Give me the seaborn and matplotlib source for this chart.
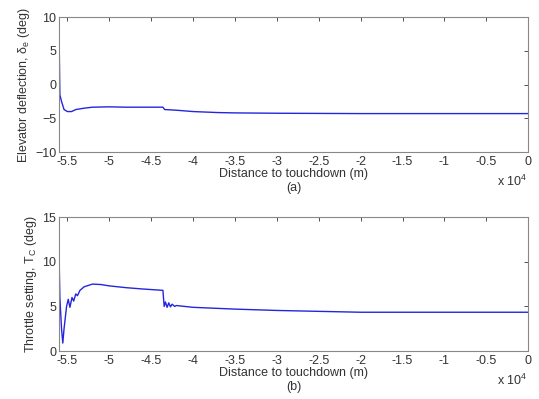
import numpy as np
import pandas as pd
import seaborn as sns
import matplotlib
matplotlib.use("Agg")
import matplotlib.pyplot as plt
from matplotlib.ticker import FuncFormatter, MultipleLocator

# Distance to touchdown (m)
elev_x = [-56000, -55900, -55700, -55400, -55000, -54500, -54000, -53000, -52000,
          -50000, -48000, -45000, -43600, -43400, -42000, -40000, -37000, -35000,
          -30000, -20000, 0]
# Elevator deflection (deg)
elev_y = [8.0, -1.5, -2.5, -3.7, -4.0, -4.0, -3.7, -3.5, -3.35,
          -3.3, -3.35, -3.35, -3.35, -3.7, -3.8, -4.0, -4.15, -4.2,
          -4.25, -4.3, -4.3]

thr_x = [-56000, -55900, -55700, -55550, -55400, -55100, -54900, -54700, -54450,
         -54250, -54000, -53800, -53500, -53000, -52000, -51000, -50000, -48000,
         -46000, -43600, -43450, -43300, -43100, -42900, -42700, -42500, -42200,
         -42000, -41000, -40000, -35000, -30000, -25000, -20000, -15000, 0]
# Throttle setting (deg)
thr_y = [11.0, 6.0, 2.5, 0.9, 2.5, 5.0, 5.8, 4.9, 6.0,
         5.6, 6.4, 6.2, 6.8, 7.2, 7.5, 7.45, 7.3, 7.1,
         6.95, 6.8, 5.0, 5.5, 4.9, 5.4, 4.95, 5.25, 5.0,
         5.1, 5.0, 4.9, 4.7, 4.55, 4.45, 4.35, 4.35, 4.35]

xticks = [-55000, -50000, -45000, -40000, -35000, -30000, -25000, -20000,
          -15000, -10000, -5000, 0]

sns.set_style("white")
plt.rcParams['font.family'] = ['Liberation Sans', 'DejaVu Sans']
plt.rcParams['mathtext.fontset'] = 'custom'
plt.rcParams['mathtext.rm'] = 'Liberation Sans'
plt.rcParams['mathtext.it'] = 'Liberation Sans'

fig = plt.figure(figsize=(5.39, 3.99), dpi=100)
ax1 = fig.add_axes([0.1095, 0.619, 0.8705, 0.338])
ax2 = fig.add_axes([0.1095, 0.120, 0.8705, 0.336])

df1 = pd.DataFrame({"x": elev_x, "y": elev_y})
df2 = pd.DataFrame({"x": thr_x, "y": thr_y})
sns.lineplot(data=df1, x="x", y="y", ax=ax1, color="#2525dd", lw=1.0,
             sort=False, estimator=None)
sns.lineplot(data=df2, x="x", y="y", ax=ax2, color="#2525dd", lw=1.0,
             sort=False, estimator=None)

fmt = FuncFormatter(lambda v, p: ("%g" % (v / 1e4)))
tc = "#333333"
fs = 9
for ax, ylim, lab, sub in [
    (ax1, (-10, 10), r"Elevator deflection, $\delta_e$ (deg)", "(a)"),
    (ax2, (0, 15), r"Throttle setting, $T_C$ (deg)", "(b)")]:
    ax.set_xlim(-56000, 0)
    ax.set_ylim(*ylim)
    ax.set_xticks(xticks)
    ax.xaxis.set_major_formatter(fmt)
    ax.yaxis.set_major_locator(MultipleLocator(5))
    ax.tick_params(direction="in", length=3, width=0.6, top=True, right=True,
                   labelsize=fs, colors=tc, pad=2)
    ax.tick_params(axis="x", pad=3)
    for s in ax.spines.values():
        s.set_color("#888888")
        s.set_linewidth(0.8)
    ax.set_xlabel("Distance to touchdown (m)", fontsize=fs, color=tc, labelpad=0)
    ax.set_ylabel(lab, fontsize=fs, color=tc, labelpad=2)
    ax.text(0.5, -0.27, sub, transform=ax.transAxes, ha="center", va="center",
            fontsize=fs, color=tc)
    ax.text(0.965, -0.215, r"x 10$^4$", transform=ax.transAxes, ha="center",
            va="center", fontsize=fs, color=tc)

fig.savefig("out.png", dpi=100, facecolor="white")
